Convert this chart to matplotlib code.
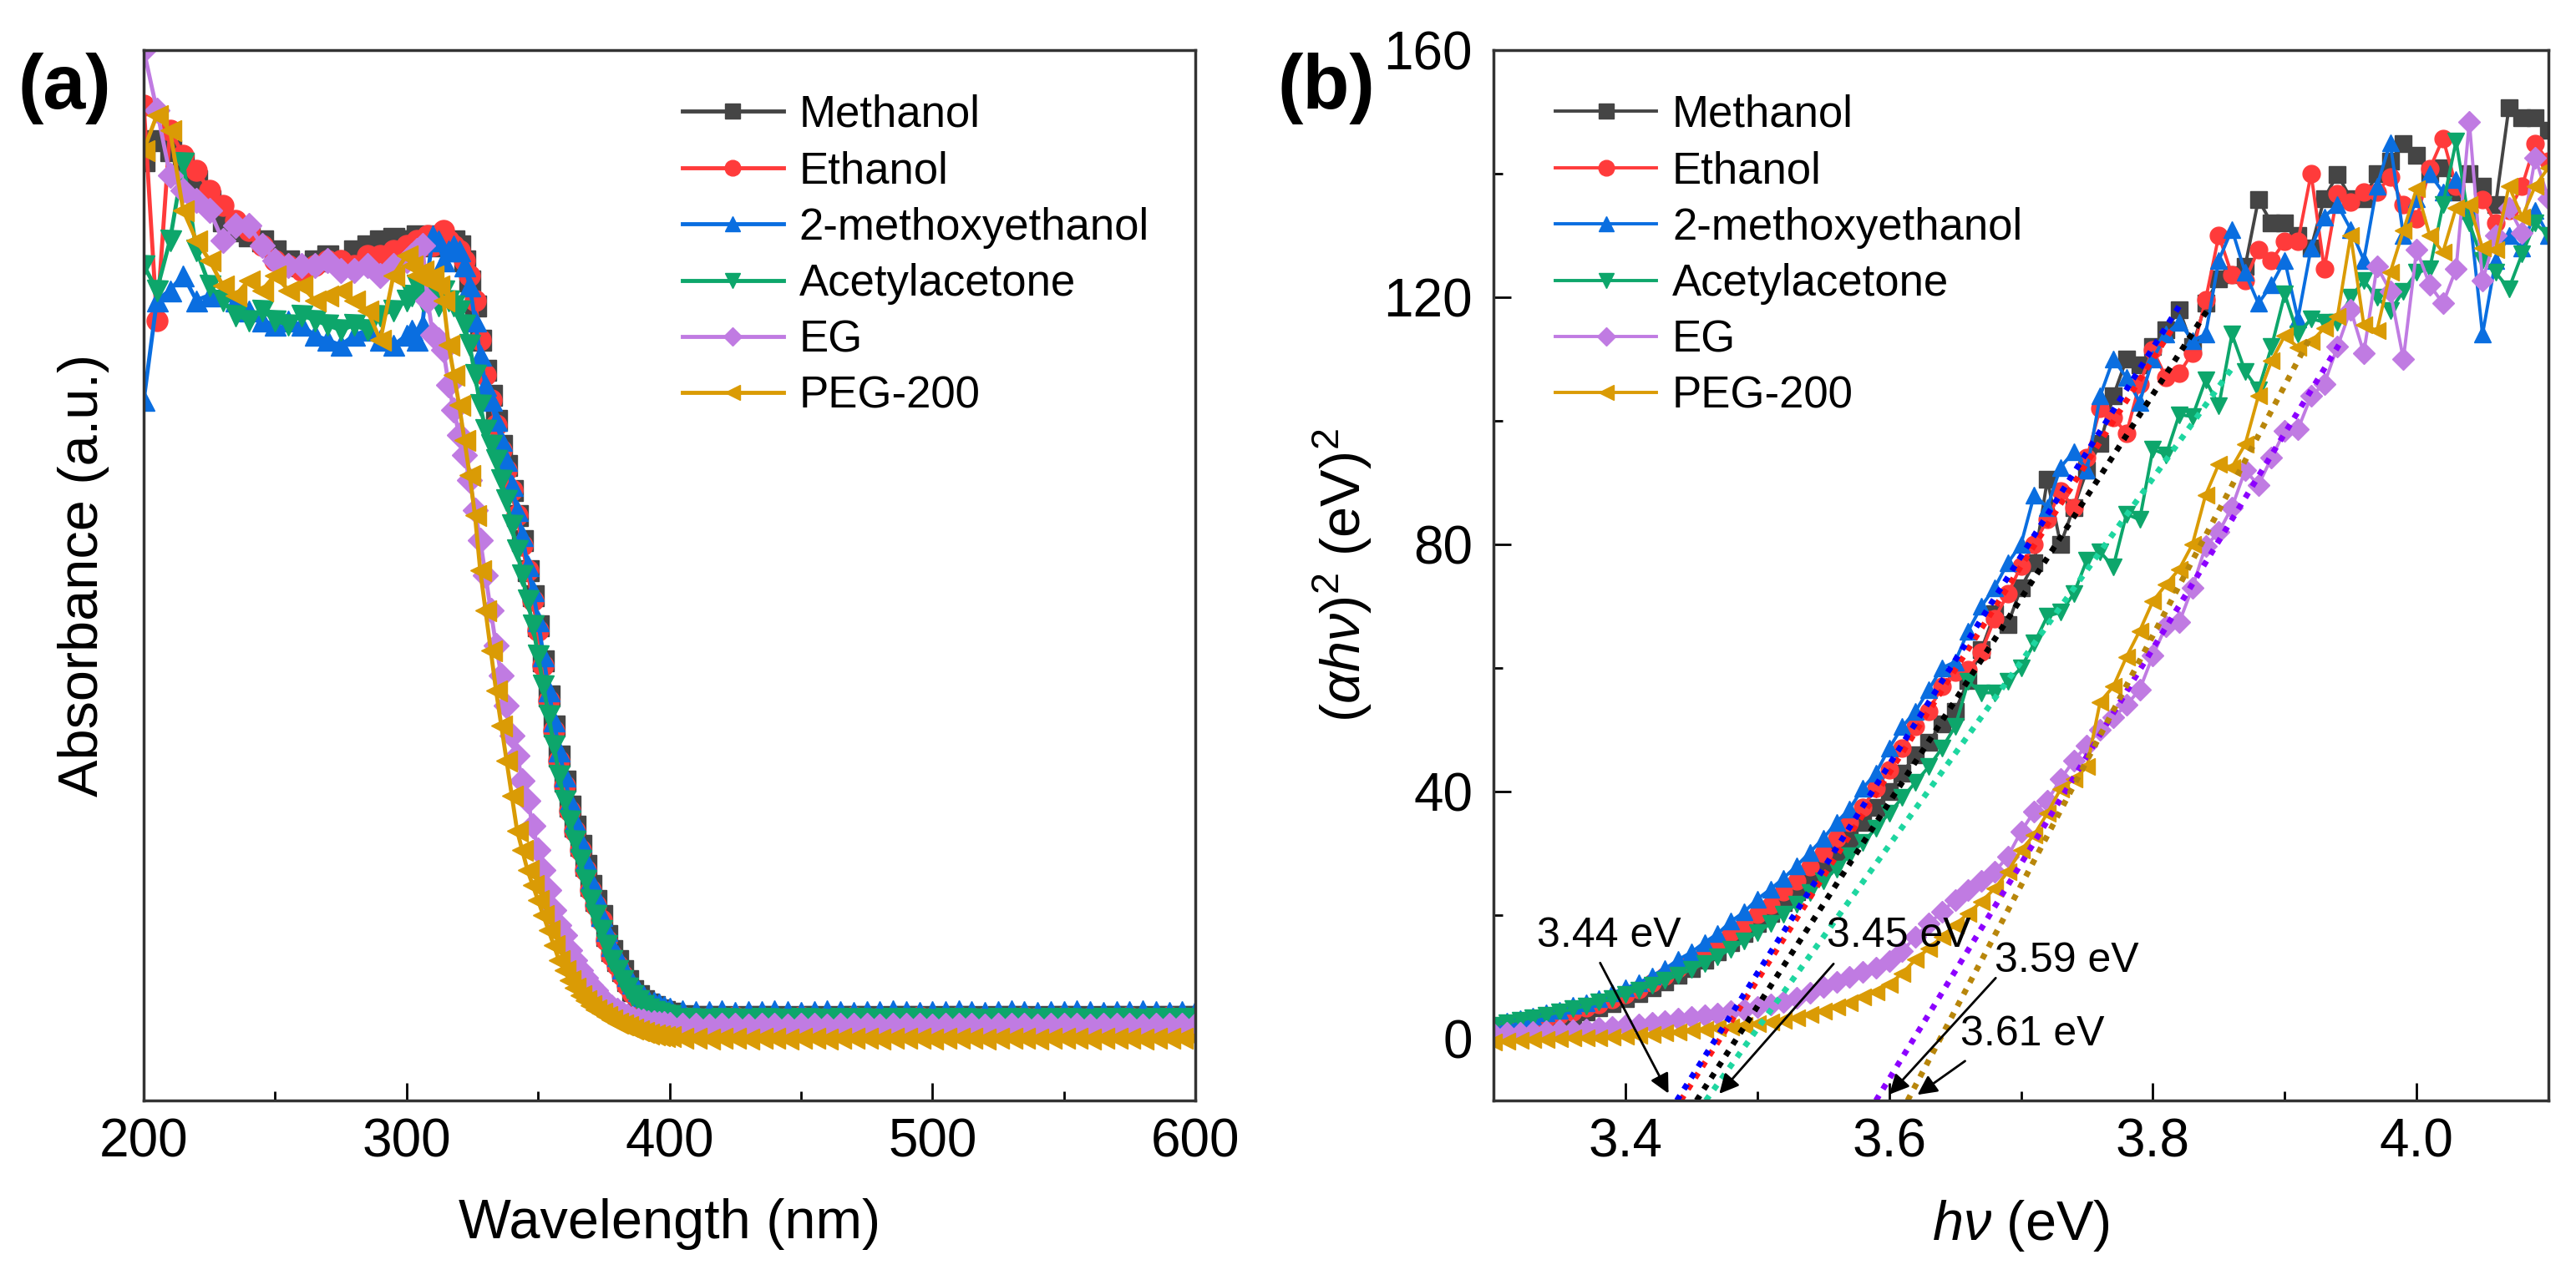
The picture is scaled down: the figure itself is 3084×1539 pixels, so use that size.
import numpy as np
import matplotlib
matplotlib.use('Agg')
import matplotlib.pyplot as plt
from matplotlib.ticker import MultipleLocator

plt.rcParams['font.family'] = ['Liberation Sans', 'DejaVu Sans']
plt.rcParams['mathtext.fontset'] = 'custom'
plt.rcParams['mathtext.rm'] = 'Liberation Sans'
plt.rcParams['mathtext.it'] = 'Liberation Sans:italic'

# ---- data, panel (a): absorbance vs wavelength ----
# 5 nm steps on the plateau and the flat tail, 2 nm steps across the edge
wavelength = np.concatenate([np.arange(200, 301, 5),
                             np.arange(302, 401, 2),
                             np.arange(405, 601, 5)])

abs_methanol = [1.78, 1.82, 1.80, 1.775, 1.74, 1.70, 1.66, 1.64, 1.63, 1.62,
                1.60, 1.58, 1.57, 1.58, 1.59, 1.58, 1.60, 1.61, 1.62, 1.625, 1.62,
                1.62, 1.63, 1.62, 1.61, 1.62, 1.63, 1.62, 1.61, 1.62, 1.61,
                1.58, 1.54, 1.49, 1.42, 1.36, 1.31, 1.26, 1.21, 1.17, 1.12,
                1.07, 1.02, 0.96, 0.91, 0.85, 0.78, 0.71, 0.65, 0.59, 0.54,
                0.49, 0.45, 0.41, 0.37, 0.33, 0.30, 0.27, 0.23, 0.20, 0.18,
                0.16, 0.14, 0.12, 0.11, 0.10, 0.094, 0.088, 0.082, 0.078, 0.075,
                0.070, 0.069, 0.068, 0.069, 0.067, 0.068, 0.069, 0.068, 0.067, 0.068,
                0.069, 0.067, 0.068, 0.068, 0.069, 0.067, 0.068, 0.069, 0.068, 0.067,
                0.068, 0.069, 0.068, 0.067, 0.068, 0.069, 0.068, 0.067, 0.068, 0.069,
                0.068, 0.067, 0.068, 0.069, 0.068, 0.067, 0.068, 0.069, 0.068, 0.068]
abs_ethanol = [1.89, 1.46, 1.84, 1.79, 1.76, 1.72, 1.69, 1.66, 1.64, 1.61,
               1.58, 1.57, 1.56, 1.57, 1.58, 1.58, 1.57, 1.59, 1.59, 1.60, 1.61,
               1.60, 1.62, 1.61, 1.63, 1.61, 1.62, 1.64, 1.62, 1.61, 1.60,
               1.58, 1.55, 1.50, 1.42, 1.35, 1.30, 1.25, 1.20, 1.16, 1.12,
               1.07, 1.01, 0.96, 0.90, 0.84, 0.77, 0.70, 0.64, 0.58, 0.53,
               0.48, 0.44, 0.40, 0.36, 0.32, 0.29, 0.26, 0.22, 0.19, 0.17,
               0.15, 0.13, 0.115, 0.105, 0.095, 0.089, 0.083, 0.078, 0.075, 0.072,
               0.067, 0.066, 0.065, 0.066, 0.067, 0.065, 0.066, 0.066, 0.065, 0.067,
               0.066, 0.065, 0.066, 0.067, 0.066, 0.065, 0.066, 0.066, 0.067, 0.065,
               0.066, 0.067, 0.066, 0.065, 0.066, 0.066, 0.067, 0.065, 0.066, 0.067,
               0.066, 0.065, 0.066, 0.066, 0.067, 0.065, 0.066, 0.067, 0.066, 0.066]
abs_methoxy = [1.30, 1.50, 1.52, 1.55, 1.50, 1.51, 1.52, 1.50, 1.48, 1.46,
               1.45, 1.46, 1.45, 1.43, 1.42, 1.41, 1.43, 1.44, 1.42, 1.41, 1.43,
               1.44, 1.42, 1.45, 1.55, 1.63, 1.62, 1.58, 1.60, 1.61, 1.60,
               1.57, 1.53, 1.46, 1.39, 1.33, 1.30, 1.26, 1.22, 1.18, 1.13,
               1.08, 1.03, 0.97, 0.92, 0.86, 0.79, 0.72, 0.66, 0.60, 0.55,
               0.50, 0.46, 0.42, 0.38, 0.34, 0.31, 0.27, 0.24, 0.21, 0.19,
               0.165, 0.15, 0.135, 0.12, 0.11, 0.10, 0.097, 0.093, 0.088, 0.085,
               0.080, 0.079, 0.078, 0.080, 0.077, 0.079, 0.078, 0.080, 0.078, 0.077,
               0.079, 0.080, 0.078, 0.077, 0.079, 0.078, 0.080, 0.078, 0.077, 0.079,
               0.078, 0.080, 0.078, 0.077, 0.079, 0.080, 0.078, 0.077, 0.079, 0.078,
               0.080, 0.078, 0.077, 0.079, 0.078, 0.080, 0.078, 0.077, 0.079, 0.078]
abs_acac = [1.57, 1.52, 1.62, 1.775, 1.60, 1.53, 1.50, 1.47, 1.46, 1.48,
            1.46, 1.45, 1.47, 1.46, 1.45, 1.44, 1.45, 1.44, 1.47, 1.48, 1.50,
            1.51, 1.53, 1.50, 1.52, 1.51, 1.49, 1.52, 1.50, 1.49, 1.48,
            1.45, 1.41, 1.35, 1.29, 1.24, 1.21, 1.18, 1.14, 1.10, 1.05,
            1.00, 0.95, 0.90, 0.85, 0.79, 0.73, 0.67, 0.61, 0.55, 0.50,
            0.46, 0.42, 0.38, 0.34, 0.30, 0.27, 0.24, 0.21, 0.18, 0.16,
            0.14, 0.125, 0.11, 0.10, 0.09, 0.084, 0.079, 0.075, 0.072, 0.070,
            0.064, 0.063, 0.062, 0.063, 0.064, 0.062, 0.063, 0.063, 0.062, 0.064,
            0.063, 0.062, 0.063, 0.064, 0.063, 0.062, 0.063, 0.063, 0.064, 0.062,
            0.063, 0.064, 0.063, 0.062, 0.063, 0.063, 0.064, 0.062, 0.063, 0.064,
            0.063, 0.062, 0.063, 0.063, 0.064, 0.062, 0.063, 0.064, 0.063, 0.063]
abs_eg = [2.00, 1.88, 1.75, 1.72, 1.70, 1.68, 1.62, 1.65, 1.65, 1.61,
          1.58, 1.57, 1.57, 1.57, 1.58, 1.56, 1.56, 1.57, 1.55, 1.57, 1.58,
          1.59, 1.60, 1.61, 1.50, 1.43, 1.42, 1.40, 1.33, 1.28, 1.23,
          1.19, 1.14, 1.08, 1.02, 0.95, 0.88, 0.81, 0.75, 0.69, 0.63,
          0.59, 0.54, 0.50, 0.45, 0.40, 0.36, 0.32, 0.28, 0.25, 0.23,
          0.20, 0.18, 0.16, 0.145, 0.13, 0.12, 0.105, 0.095, 0.087, 0.080,
          0.074, 0.068, 0.064, 0.061, 0.058, 0.056, 0.055, 0.054, 0.053, 0.052,
          0.051, 0.050, 0.049, 0.050, 0.051, 0.049, 0.050, 0.050, 0.049, 0.051,
          0.050, 0.049, 0.050, 0.051, 0.050, 0.049, 0.050, 0.050, 0.051, 0.049,
          0.050, 0.051, 0.050, 0.049, 0.050, 0.050, 0.051, 0.049, 0.050, 0.051,
          0.050, 0.049, 0.050, 0.050, 0.051, 0.049, 0.050, 0.051, 0.050, 0.050]
abs_peg = [1.80, 1.87, 1.84, 1.68, 1.62, 1.58, 1.53, 1.51, 1.54, 1.52,
           1.55, 1.52, 1.53, 1.50, 1.51, 1.52, 1.50, 1.48, 1.42, 1.55, 1.59,
           1.57, 1.55, 1.56, 1.54, 1.55, 1.53, 1.50, 1.41, 1.35, 1.29,
           1.22, 1.15, 1.07, 0.96, 0.88, 0.80, 0.72, 0.65, 0.58, 0.51,
           0.44, 0.40, 0.36, 0.33, 0.30, 0.27, 0.24, 0.21, 0.18, 0.16,
           0.14, 0.125, 0.11, 0.10, 0.09, 0.082, 0.075, 0.068, 0.062, 0.056,
           0.052, 0.048, 0.044, 0.040, 0.037, 0.034, 0.032, 0.030, 0.029, 0.028,
           0.026, 0.025, 0.024, 0.025, 0.026, 0.024, 0.025, 0.025, 0.024, 0.026,
           0.025, 0.024, 0.025, 0.026, 0.025, 0.024, 0.025, 0.025, 0.026, 0.024,
           0.025, 0.026, 0.025, 0.024, 0.025, 0.025, 0.026, 0.024, 0.025, 0.026,
           0.025, 0.024, 0.025, 0.025, 0.026, 0.024, 0.025, 0.026, 0.025, 0.025]

# ---- data, panel (b): (alpha h nu)^2 vs photon energy ----
energy = np.round(np.arange(3.30, 4.105, 0.01), 2)

tauc_methanol = [1.0, 1.4, 1.8, 2.2, 2.7, 3.2, 3.7, 4.3, 5.0, 5.7,
                 6.5, 7.3, 8.2, 9.2, 10.3, 11.4, 12.7, 14.0, 15.5, 17.0,
                 18.7, 20.3, 22.0, 23.8, 26.0, 28.0, 30.3, 32.5, 35.0, 37.5,
                 40.0, 43.0, 46.0, 48.0, 51.0, 53.0, 58.0, 63.0, 68.8, 67.0,
                 73.0, 77.0, 90.5, 80.0, 86.0, 92.0, 96.4, 104.0, 110.0, 109.0,
                 112.0, 114.7, 118.0, 112.0, 119.0, 123.0, 123.6, 125.0, 135.8, 132.0,
                 132.0, 130.0, 128.0, 136.0, 139.9, 136.0, 136.0, 140.0, 142.0, 144.9,
                 143.0, 140.0, 141.0, 137.0, 140.0, 138.0, 135.0, 150.7, 149.0, 149.0,
                 147.0]
tauc_ethanol = [1.5, 1.9, 2.3, 2.8, 3.2, 3.8, 4.3, 5.0, 5.6, 6.4,
                7.2, 8.0, 9.0, 10.2, 11.3, 12.6, 14.0, 15.6, 17.2, 18.4,
                20.2, 21.6, 23.8, 25.5, 27.8, 30.0, 32.4, 35.0, 37.5, 40.5,
                43.5, 47.0, 50.5, 53.0, 57.0, 59.3, 59.7, 62.6, 68.0, 72.0,
                76.5, 80.0, 84.0, 88.6, 86.0, 94.0, 102.0, 100.5, 98.0, 106.0,
                111.5, 107.0, 107.7, 111.0, 119.6, 130.0, 123.6, 122.7, 127.7, 126.0,
                129.0, 129.0, 140.0, 124.6, 136.7, 135.4, 137.0, 137.0, 139.5, 135.0,
                132.7, 140.8, 145.7, 138.0, 134.0, 135.8, 132.0, 134.0, 138.0, 144.9,
                142.0]
tauc_methoxy = [2.4, 2.8, 3.3, 3.6, 4.2, 4.6, 5.4, 5.8, 6.5, 7.4,
                8.2, 9.0, 10.2, 11.3, 12.8, 14.0, 15.6, 17.0, 19.0, 20.5,
                22.6, 24.2, 26.0, 28.0, 30.2, 32.4, 35.0, 37.2, 40.5, 43.0,
                47.0, 50.5, 53.0, 56.5, 60.0, 61.0, 66.0, 70.0, 73.0, 77.0,
                80.0, 88.0, 86.0, 92.5, 95.0, 92.0, 104.0, 110.0, 107.0, 103.0,
                110.0, 114.0, 116.0, 113.0, 114.0, 126.0, 131.0, 124.0, 119.0, 122.0,
                126.0, 116.5, 128.0, 133.0, 135.0, 131.0, 126.0, 138.0, 145.0, 130.0,
                136.0, 140.0, 137.0, 139.0, 134.0, 114.0, 126.0, 130.0, 128.0, 134.0,
                130.0]
tauc_acac = [2.2, 2.6, 3.0, 3.4, 3.8, 4.3, 4.8, 5.3, 5.9, 6.5,
             7.2, 7.9, 8.6, 9.4, 10.3, 11.2, 12.2, 13.3, 14.5, 15.8,
             17.2, 18.6, 20.2, 21.8, 23.6, 25.5, 27.5, 29.6, 31.8, 34.0,
             36.5, 39.0, 41.5, 44.0, 47.0, 50.5, 57.8, 56.0, 56.0, 57.8,
             60.0, 64.0, 68.4, 69.0, 72.0, 77.5, 78.8, 76.4, 84.9, 84.0,
             95.4, 94.5, 101.0, 100.7, 106.6, 102.4, 114.0, 108.0, 105.0, 112.0,
             120.5, 114.0, 116.5, 116.0, 116.0, 120.0, 122.7, 120.0, 117.8, 121.0,
             124.0, 124.6, 135.0, 145.3, 132.0, 126.0, 124.0, 121.4, 127.0, 132.0,
             130.0]
tauc_eg = [0.8, 0.9, 1.0, 1.1, 1.2, 1.3, 1.4, 1.5, 1.7, 1.9,
           2.1, 2.3, 2.6, 2.9, 3.2, 3.5, 3.8, 4.1, 4.4, 4.7,
           5.1, 5.5, 6.0, 6.6, 7.4, 8.4, 9.2, 10.0, 10.8, 11.5,
           12.6, 14.2, 16.5, 18.6, 20.5, 22.5, 24.0, 25.5, 27.0, 29.5,
           33.5, 36.8, 38.5, 42.0, 45.0, 47.5, 50.0, 52.0, 54.0, 56.5,
           62.0, 66.8, 67.4, 73.0, 79.7, 82.0, 86.0, 92.0, 89.6, 94.0,
           98.4, 98.6, 104.0, 106.0, 112.0, 118.0, 111.0, 125.0, 121.0, 110.0,
           127.7, 122.0, 119.0, 124.6, 148.4, 122.7, 130.0, 134.5, 130.4, 142.6,
           136.0]
tauc_peg = [-0.5, -0.4, -0.3, -0.2, -0.1, 0.0, 0.1, 0.2, 0.2, 0.3,
            0.4, 0.5, 0.7, 0.9, 1.1, 1.3, 1.5, 1.7, 1.9, 2.1,
            2.4, 2.7, 3.0, 3.4, 3.9, 4.5, 5.1, 5.8, 6.7, 7.6,
            8.8, 10.6, 12.8, 14.6, 16.5, 18.4, 20.3, 22.2, 24.3, 27.0,
            30.5, 33.0, 36.5, 40.4, 42.0, 44.0, 54.5, 57.0, 61.8, 66.0,
            70.8, 73.5, 76.0, 80.0, 88.0, 93.0, 92.5, 96.2, 104.0, 109.7,
            113.8, 111.9, 112.8, 115.0, 116.9, 130.0, 115.5, 114.6, 124.0, 130.8,
            137.6, 130.0, 127.3, 134.5, 135.0, 128.0, 127.7, 138.0, 133.0, 138.0,
            141.0]

# linear fits: start on the bottom axis, end point (x, y)
fit_x0 = [3.454, 3.442, 3.439, 3.461, 3.590, 3.614]
fit_x1 = [3.841, 3.815, 3.821, 3.861, 3.942, 3.920]
fit_y1 = [117.8, 115.0, 118.9, 108.8, 112.6, 113.8]

gap_labels = ['3.44 eV', '3.45 eV', '3.59 eV', '3.61 eV']
gap_text_xy = [(3.333, 16.6), (3.553, 16.6), (3.680, 12.6), (3.654, 0.7)]
gap_arrow_from = [(3.380, 12.6), (3.559, 12.4), (3.682, 10.1), (3.659, -3.4)]
gap_arrow_to = [(3.4335, -9.2), (3.470, -9.2), (3.599, -9.3), (3.620, -9.3)]

names = ['Methanol', 'Ethanol', '2-methoxyethanol', 'Acetylacetone', 'EG', 'PEG-200']
colors = ['#454545', '#FF3B3B', '#0A6EE0', '#0DA66B', '#C07BE2', '#DA9B05']
fit_colors = ['#000000', '#FF1A1A', '#0000FF', '#1ED6A0', '#8C00FF', '#B8860B']
markers = ['s', 'o', '^', 'v', 'D', '<']

abs_all = [abs_methanol, abs_ethanol, abs_methoxy, abs_acac, abs_eg, abs_peg]
tauc_all = [tauc_methanol, tauc_ethanol, tauc_methoxy, tauc_acac, tauc_eg, tauc_peg]

fig = plt.figure(figsize=(30.84, 15.39), dpi=100)
ax1 = fig.add_axes([0.0558, 0.1436, 0.4082, 0.8174])
ax2 = fig.add_axes([0.5798, 0.1436, 0.4095, 0.8174])

# panel (a)
for y, c, m, n in zip(abs_all, colors, markers, names):
    ms = 15 if m == 'D' else 18
    ax1.plot(wavelength, y, color=c, marker=m, ms=ms, mec=c, lw=3.5, label=n)

ax1.set_xlim(200, 600)
ax1.set_ylim(-0.1, 2.0)
ax1.set_yticks([])
ax1.xaxis.set_major_locator(MultipleLocator(100))
ax1.xaxis.set_minor_locator(MultipleLocator(50))
ax1.set_xlabel('Wavelength (nm)', fontsize=48)
ax1.set_ylabel('Absorbance (a.u.)', fontsize=48)
ax1.xaxis.set_label_coords(0.5, -0.093)
ax1.yaxis.set_label_coords(-0.033, 0.5)
ax1.legend(loc='upper left', bbox_to_anchor=(0.512, 0.958), frameon=False, fontsize=38,
           handlelength=2.3, handletextpad=0.35, labelspacing=0.33,
           borderaxespad=0, borderpad=0, markerscale=0.75)

# panel (b)
for y, c, m, n in zip(tauc_all, colors, markers, names):
    ms = 13 if m == 'D' else 15
    ax2.plot(energy, y, color=c, marker=m, ms=ms, mec=c, lw=2.8, label=n)

for x0, x1, y1, c in zip(fit_x0, fit_x1, fit_y1, fit_colors):
    ax2.plot([x0, x1], [-10, y1], color=c, lw=5, ls=(0, (1, 1.3)))

for lab, txy, a0, a1 in zip(gap_labels, gap_text_xy, gap_arrow_from, gap_arrow_to):
    ax2.text(txy[0], txy[1], lab, fontsize=36, ha='left', va='center')
    ax2.annotate('', xy=a1, xytext=a0,
                 arrowprops=dict(arrowstyle='-|>', color='black', lw=2, mutation_scale=35))

ax2.set_xlim(3.3, 4.1)
ax2.set_ylim(-10, 160)
ax2.xaxis.set_major_locator(MultipleLocator(0.2))
ax2.xaxis.set_minor_locator(MultipleLocator(0.1))
ax2.yaxis.set_major_locator(MultipleLocator(40))
ax2.yaxis.set_minor_locator(MultipleLocator(20))
ax2.set_xlabel(r'$h\nu$ (eV)', fontsize=48)
ax2.set_ylabel(r'$(\alpha h\nu)^2$ (eV)$^2$', fontsize=48)
ax2.xaxis.set_label_coords(0.5, -0.093)
ax2.yaxis.set_label_coords(-0.113, 0.5)
ax2.legend(loc='upper left', bbox_to_anchor=(0.0586, 0.958), frameon=False, fontsize=38,
           handlelength=2.3, handletextpad=0.35, labelspacing=0.33,
           borderaxespad=0, borderpad=0, markerscale=0.9)

for ax in (ax1, ax2):
    for s in ax.spines.values():
        s.set_linewidth(2.5)
        s.set_color('#333333')
    ax.tick_params(which='major', direction='in', length=15, width=2, labelsize=46,
                   top=False, right=False)
    ax.tick_params(which='minor', direction='in', length=8, width=2,
                   top=False, right=False)
    ax.tick_params(axis='x', which='major', pad=15)
    ax.tick_params(axis='y', which='major', pad=18)

fig.text(0.025, 0.931, '(a)', fontsize=66, fontweight='bold', ha='center', va='center')
fig.text(0.515, 0.931, '(b)', fontsize=66, fontweight='bold', ha='center', va='center')

fig.savefig('out.png', dpi=100)
